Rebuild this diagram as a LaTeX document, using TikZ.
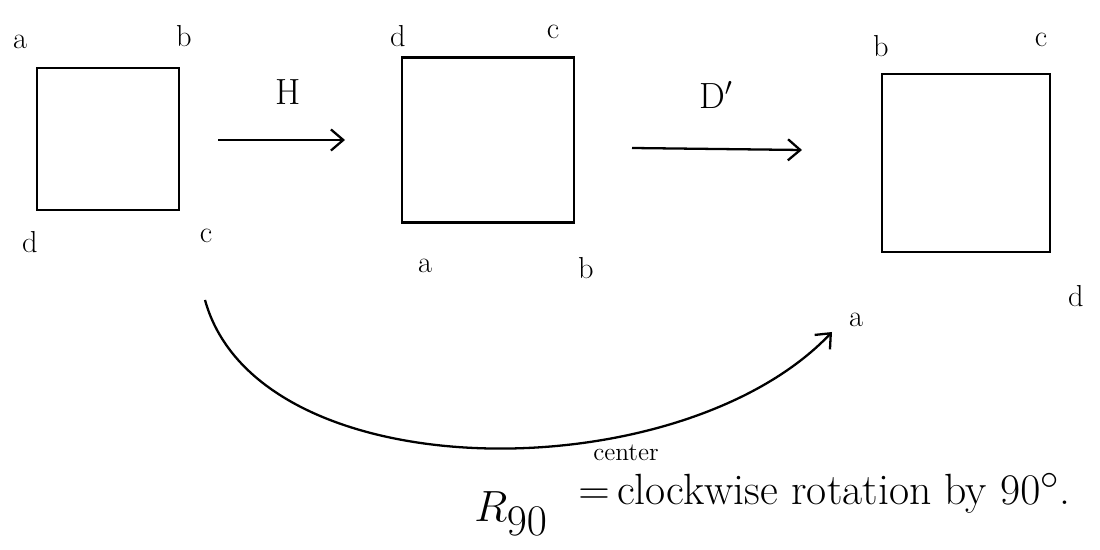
\documentclass[tikz,border=0pt]{standalone}
\usepackage{amsmath}
\usepackage{tikz}
\usetikzlibrary{arrows.meta, positioning}

\begin{document}
\begin{tikzpicture}[
  x=0.02cm, y=-0.02cm,
  square/.style={draw, line width=1.3pt, inner sep=0pt},
  corner/.style={font=\LARGE, inner sep=1pt},
  maparrow/.style={line width=1.3pt, -{Straight Barb[length=7pt, width=12pt]}},
  maplabel/.style={font=\huge},
]
\useasboundingbox (0,0) rectangle (1100,550);

% =================================================================
% SQUARES
% =================================================================
\node[square, minimum width=142*0.02cm, minimum height=142*0.02cm]
  (sqA) at (108,139) {};
\node[square, minimum width=172*0.02cm, minimum height=165*0.02cm]
  (sqB) at (488,140) {};
\node[square, minimum width=168*0.02cm, minimum height=178*0.02cm]
  (sqC) at (966,163) {};

% corner labels
\node[corner] (aA) at (20,42) {a};
\node[corner] (bA) at (184,36) {b};
\node[corner] (dA) at (30,242) {d};
\node[corner] (cA) at (206,236) {c};

\node[corner] (dB) at (398,36) {d};
\node[corner] (cB) at (553,32) {c};
\node[corner] (aB) at (425,266) {a};
\node[corner] (bB) at (586,268) {b};

\node[corner] (bC) at (881,46) {b};
\node[corner] (cC) at (1041,40) {c};
\node[corner] (aC) at (856,320) {a};
\node[corner] (dC) at (1076,296) {d};

% =================================================================
% MAPS H AND D'
% =================================================================
\coordinate (hstart) at (218,140);
\coordinate (hend) at (345,140);
\draw[maparrow] (hstart) -- (hend);
\node[maplabel] (hlab) at (288,92) {H};

\coordinate (dstart) at (632,148);
\coordinate (dend) at (802,150);
\draw[maparrow] (dstart) -- (dend);
\node[maplabel] (dlab) at (716,95) {D$'$};

% =================================================================
% ROTATION R_90
% =================================================================
\coordinate (rstart) at (205,300);
\coordinate (rend) at (832,332);
\draw[maparrow] (rstart) .. controls (258,492) and (680,492) .. (rend);

\node[font=\fontsize{36}{40}\selectfont, anchor=base west, inner sep=0pt]
  (rlab) at (474,522) {$R_{90}$};
\node[font=\Huge, anchor=base west, inner sep=0pt] (rtext) at (578,505)
  {$=$\,clockwise rotation by $90^\circ$.};
\node[font=\Large, inner sep=0pt] (center) at (626,453) {center};

\end{tikzpicture}
\end{document}
